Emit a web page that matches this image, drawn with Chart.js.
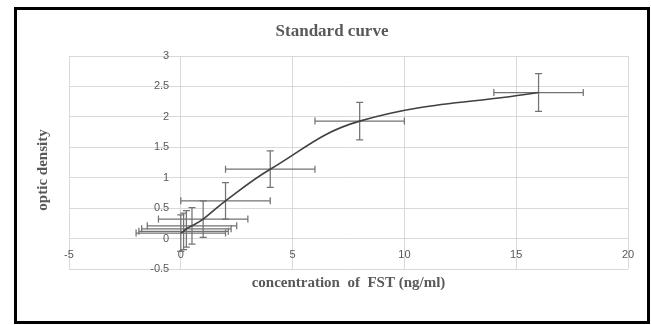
<!DOCTYPE html>
<html>
<head>
<meta charset="utf-8">
<script src="https://cdn.jsdelivr.net/npm/chart.js@4"></script>
<style>
  html, body { margin: 0; padding: 0; background: #fff; }
  #box {
    position: absolute; left: 14px; top: 7px;
    width: 636px; height: 317px;
    border: 3px solid #000; box-sizing: border-box;
  }
  #wrap { position: relative; width: 630px; height: 311px; }
</style>
</head>
<body>
<div id="box"><div id="wrap"><canvas id="curve-chart"></canvas></div></div>
<script>
// concentration (ng/ml) and optical density readings
const concentration = [0, 0.125, 0.25, 0.5, 1, 2, 4, 8, 16];
const opticDensity = [0.09, 0.12, 0.16, 0.21, 0.32, 0.62, 1.14, 1.93, 2.4];
const concError = [2, 2, 2, 2, 2, 2, 2, 2, 2];
const odError = [0.3, 0.3, 0.3, 0.3, 0.3, 0.3, 0.3, 0.31, 0.31];

const xTicks = [-5, 0, 5, 10, 15, 20];
const yTicks = [-0.5, 0, 0.5, 1, 1.5, 2, 2.5, 3];

const gridColor = '#d9d9d9';
const labelColor = '#595959';

// error bars, drawn under the curve
const errorBars = {
    id: 'errorBars',
    beforeDatasetsDraw(chart) {
        const ctx = chart.ctx;
        const xs = chart.scales.x;
        const ys = chart.scales.y;
        const cap = 3.5;
        ctx.save();
        ctx.strokeStyle = '#737373';
        ctx.lineWidth = 1.25;
        for (let i = 0; i < concentration.length; i++) {
            const px = xs.getPixelForValue(concentration[i]);
            const py = ys.getPixelForValue(opticDensity[i]);
            const x1 = xs.getPixelForValue(concentration[i] - concError[i]);
            const x2 = xs.getPixelForValue(concentration[i] + concError[i]);
            const y1 = ys.getPixelForValue(opticDensity[i] + odError[i]);
            const y2 = ys.getPixelForValue(opticDensity[i] - odError[i]);
            ctx.beginPath();
            // horizontal
            ctx.moveTo(x1, py); ctx.lineTo(x2, py);
            ctx.moveTo(x1, py - cap); ctx.lineTo(x1, py + cap);
            ctx.moveTo(x2, py - cap); ctx.lineTo(x2, py + cap);
            // vertical
            ctx.moveTo(px, y1); ctx.lineTo(px, y2);
            ctx.moveTo(px - cap, y1); ctx.lineTo(px + cap, y1);
            ctx.moveTo(px - cap, y2); ctx.lineTo(px + cap, y2);
            ctx.stroke();
        }
        ctx.restore();
    }
};

const ctx = document.getElementById('curve-chart').getContext('2d');

const curveChart = new Chart(ctx, {
    type: 'scatter',
    data: {
        datasets: [{
            label: 'Standard curve',
            data: concentration.map((c, i) => ({ x: c, y: opticDensity[i] })),
            showLine: true,
            borderColor: '#404040',
            borderWidth: 1.6,
            tension: 0.4,
            pointRadius: 0,
            fill: false
        }]
    },
    options: {
        responsive: true,
        maintainAspectRatio: false,
        animation: false,
        layout: { padding: 0 },
        plugins: {
            legend: { display: false },
            tooltip: { enabled: false },
            title: {
                display: true,
                text: 'Standard curve',
                color: labelColor,
                font: { family: 'Liberation Serif', size: 17, weight: 'bold' },
                padding: { top: 11, bottom: 14.6 }
            }
        },
        scales: {
            x: {
                type: 'linear',
                position: { y: 0 },
                min: -5,
                max: 20,
                afterBuildTicks: axis => { axis.ticks = xTicks.map(v => ({ value: v })); },
                ticks: {
                    color: labelColor,
                    font: { family: 'Liberation Sans', size: 11 },
                    padding: 10,
                    callback: v => String(v)
                },
                grid: { color: gridColor, drawTicks: false },
                border: { display: false }
            },
            y: {
                type: 'linear',
                // labels sit right-aligned on this value, a little left of x = 0
                position: { x: -0.52 },
                min: -0.5,
                max: 3,
                afterBuildTicks: axis => { axis.ticks = yTicks.map(v => ({ value: v })); },
                ticks: {
                    color: labelColor,
                    font: { family: 'Liberation Sans', size: 11 },
                    callback: v => String(v)
                },
                grid: { color: gridColor, drawTicks: false },
                border: { display: false }
            },
            xTitle: {
                type: 'linear',
                position: 'bottom',
                grid: { display: false },
                border: { display: false },
                ticks: { display: false },
                afterFit: s => { s.height = 52; },
                title: {
                    display: true,
                    text: 'concentration  of  FST (ng/ml)',
                    color: labelColor,
                    font: { family: 'Liberation Serif', size: 15, weight: 'bold' },
                    padding: { top: 0, bottom: 29 }
                }
            },
            yTitle: {
                type: 'linear',
                position: 'left',
                grid: { display: false },
                border: { display: false },
                ticks: { display: false },
                afterFit: s => { s.width = 52; },
                title: {
                    display: true,
                    text: 'optic density    ',
                    color: labelColor,
                    font: { family: 'Liberation Serif', size: 15, weight: 'bold' },
                    padding: { top: 17, bottom: 0 }
                }
            },
            rightGap: {
                type: 'linear',
                position: 'right',
                grid: { display: false },
                border: { display: false },
                ticks: { display: false },
                afterFit: s => { s.width = 19; }
            }
        }
    },
    plugins: [errorBars]
});
</script>
</body>
</html>
